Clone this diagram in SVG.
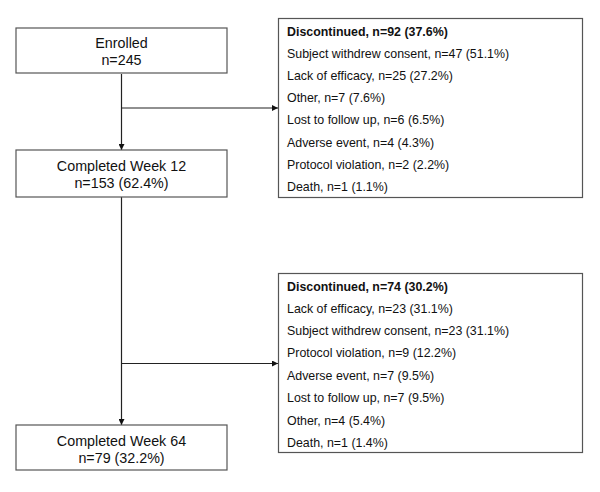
<svg xmlns="http://www.w3.org/2000/svg" width="600" height="492" viewBox="0 0 600 492">
<style>
.box{fill:#fff;stroke:#555;stroke-width:1.2}
.c{font-family:"Liberation Sans",Arial,sans-serif;font-size:14.3px;fill:#111;text-anchor:middle}
.l{font-family:"Liberation Sans",Arial,sans-serif;font-size:12.4px;fill:#111}
.b{font-weight:bold}
.ln{stroke:#222;stroke-width:1.2;fill:none}
</style>
<defs>
<marker id="ah" markerWidth="6" markerHeight="6" refX="6" refY="3" orient="auto" markerUnits="userSpaceOnUse">
<path d="M0,0 L6,3 L0,6 Z" fill="#111"/>
</marker>
</defs>
<rect width="600" height="492" fill="#fff"/>
<g id="connectors">
<line class="ln" x1="121.5" y1="74" x2="121.5" y2="150" marker-end="url(#ah)"/>
<line class="ln" x1="121.5" y1="108" x2="278" y2="108" marker-end="url(#ah)"/>
<line class="ln" x1="121.5" y1="197" x2="121.5" y2="425" marker-end="url(#ah)"/>
<line class="ln" x1="121.5" y1="363.5" x2="278" y2="363.5" marker-end="url(#ah)"/>
</g>
<g id="enrolled">
<rect class="box" x="16" y="28" width="211" height="45"/>
<text class="c" x="121.5" y="48">Enrolled</text>
<text class="c" x="121.5" y="65">n=245</text>
</g>
<g id="week12">
<rect class="box" x="16" y="150" width="211" height="47"/>
<text class="c" x="121.5" y="171">Completed Week 12</text>
<text class="c" x="121.5" y="188">n=153 (62.4%)</text>
</g>
<g id="week64">
<rect class="box" x="16" y="425" width="211" height="45"/>
<text class="c" x="121.5" y="446">Completed Week 64</text>
<text class="c" x="121.5" y="463">n=79 (32.2%)</text>
</g>
<g id="disc1">
<rect class="box" x="278.5" y="18.5" width="304" height="179"/>
<text class="l b" x="287" y="36">Discontinued, n=92 (37.6%)</text>
<text class="l" x="287" y="58">Subject withdrew consent, n=47 (51.1%)</text>
<text class="l" x="287" y="80">Lack of efficacy, n=25 (27.2%)</text>
<text class="l" x="287" y="102">Other, n=7 (7.6%)</text>
<text class="l" x="287" y="124">Lost to follow up, n=6 (6.5%)</text>
<text class="l" x="287" y="147">Adverse event, n=4 (4.3%)</text>
<text class="l" x="287" y="169">Protocol violation, n=2 (2.2%)</text>
<text class="l" x="287" y="191">Death, n=1 (1.1%)</text>
</g>
<g id="disc2">
<rect class="box" x="278.5" y="273.5" width="304" height="179"/>
<text class="l b" x="287" y="291">Discontinued, n=74 (30.2%)</text>
<text class="l" x="287" y="313">Lack of efficacy, n=23 (31.1%)</text>
<text class="l" x="287" y="335">Subject withdrew consent, n=23 (31.1%)</text>
<text class="l" x="287" y="357">Protocol violation, n=9 (12.2%)</text>
<text class="l" x="287" y="380">Adverse event, n=7 (9.5%)</text>
<text class="l" x="287" y="402">Lost to follow up, n=7 (9.5%)</text>
<text class="l" x="287" y="425">Other, n=4 (5.4%)</text>
<text class="l" x="287" y="447">Death, n=1 (1.4%)</text>
</g>
</svg>
